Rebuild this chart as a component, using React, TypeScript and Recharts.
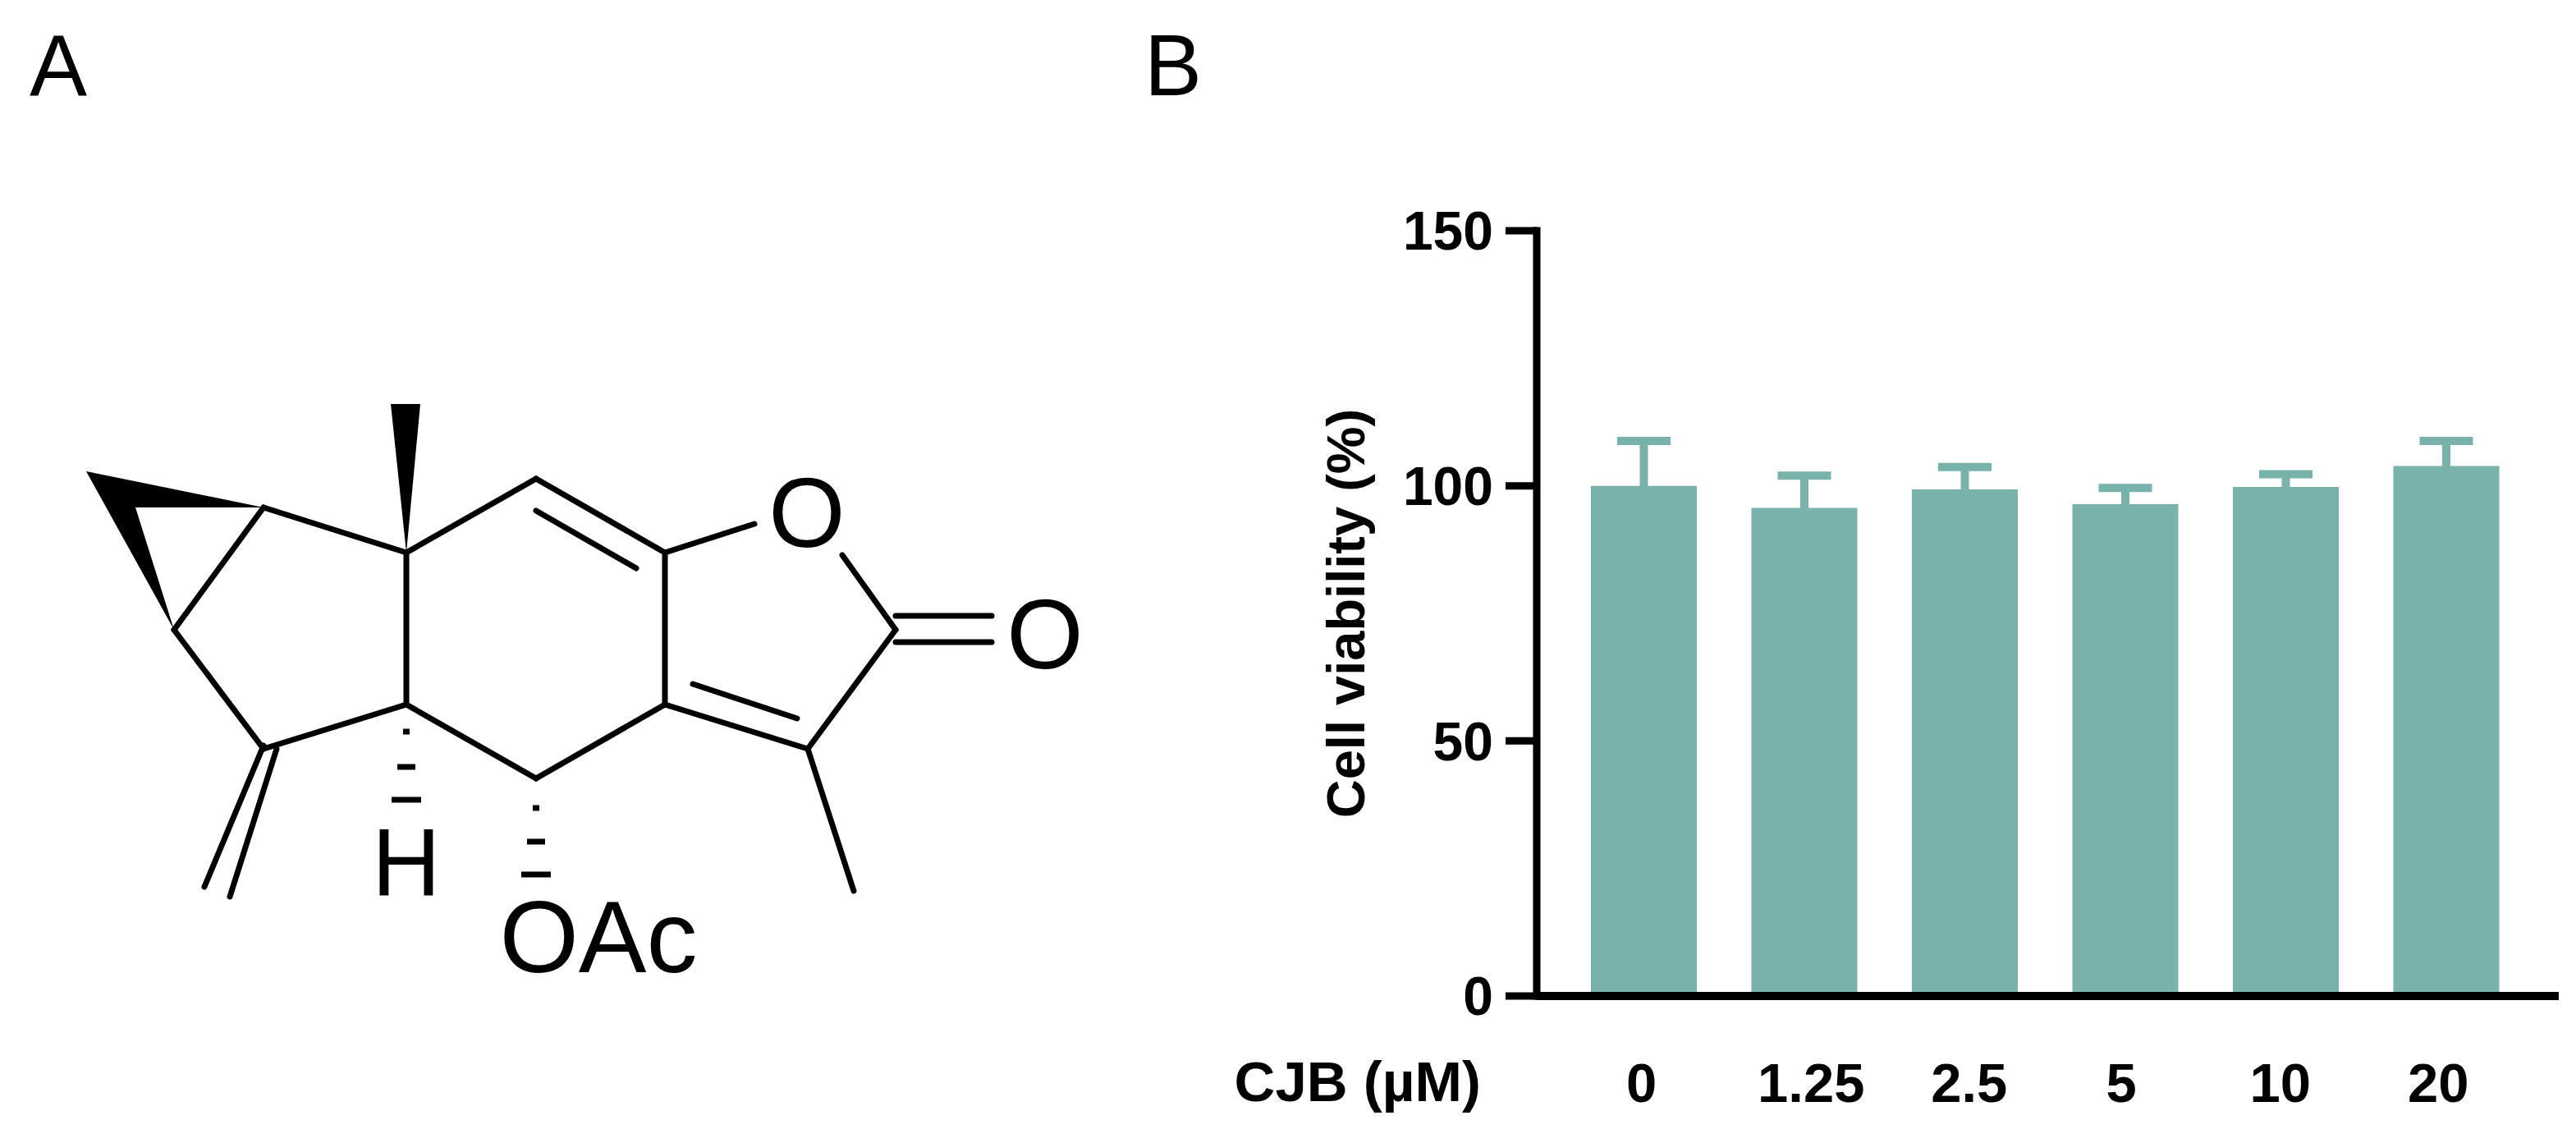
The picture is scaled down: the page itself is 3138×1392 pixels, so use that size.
import { BarChart, Bar, XAxis, YAxis, ErrorBar, ReferenceLine } from "recharts"

const FONT = "Liberation Sans"
const BAR_COLOR = "#79b1ab"

// panel B
const doses = ["0", "1.25", "2.5", "5", "10", "20"]
const viability = [100, 95.7, 99.3, 96.4, 99.8, 103.9]
const sd = [8.8, 6.3, 4.4, 3.2, 2.5, 4.9]
const yTicks = [0, 50, 100, 150]
// the dose labels in the figure don't sit exactly under their bars
const labelNudge = [-3, 8, 5, -5, -7, -10]

const chartData = doses.map((dose, i) => ({ dose, viability: viability[i], sd: sd[i] }))

// panel A, the structure drawing (page pixels)
const bonds = [
  [495, 673, 653, 583],
  [653, 583, 810, 673],
  [653, 622, 775, 692],
  [810, 673, 919, 638],
  [1026, 676, 1091, 767],
  [1091, 750, 1208, 750],
  [1091, 782, 1208, 782],
  [1091, 767, 984, 912],
  [984, 912, 810, 858],
  [971, 875, 844, 833],
  [984, 912, 1040, 1085],
  [810, 673, 810, 858],
  [810, 858, 653, 948],
  [653, 948, 495, 858],
  [495, 673, 495, 858],
  [495, 858, 321, 912],
  [321, 912, 212, 767],
  [212, 767, 321, 618],
  [321, 618, 495, 673],
  [321, 908, 249, 1080],
  [337, 912, 280, 1092],
]
const wedges = ["476,492 512,492 495,673", "105,574 321,618 165,618 212,767"]
const hashes = [
  [495, 891, 8],
  [495, 934, 22],
  [495, 974, 36],
  [653, 984, 8],
  [653, 1025, 22],
  [653, 1065, 36],
]
const atoms = [
  { label: "O", x: 983, y: 666, size: 120 },
  { label: "O", x: 1273, y: 814, size: 120 },
  { label: "H", x: 495, y: 1090, size: 116 },
  { label: "OAc", x: 729, y: 1184, size: 124 },
]

const DoseTick = ({ x, y, payload, index }: any) => (
  <text
    x={x + labelNudge[index]}
    y={y + 123}
    textAnchor="middle"
    fontFamily={FONT}
    fontSize={67}
    fontWeight="bold"
    fill="#000"
  >
    {payload.value}
  </text>
)

export default function App() {
  return (
    <div style={{ position: "absolute", left: 0, top: 0, width: 3138, height: 1392, background: "#fff" }}>
      <svg width={3138} height={1392} style={{ position: "absolute", left: 0, top: 0 }}>
        <text x={36} y={116} fontFamily={FONT} fontSize={105} fill="#000">A</text>
        <text x={1394} y={116} fontFamily={FONT} fontSize={105} fill="#000">B</text>
        {bonds.map((b, i) => (
          <line key={i} x1={b[0]} y1={b[1]} x2={b[2]} y2={b[3]} stroke="#000" strokeWidth={7} strokeLinecap="round" />
        ))}
        {wedges.map((p, i) => (
          <polygon key={i} points={p} fill="#000" />
        ))}
        {hashes.map((h, i) => (
          <line key={i} x1={h[0] - h[2] / 2} y1={h[1]} x2={h[0] + h[2] / 2} y2={h[1]} stroke="#000" strokeWidth={7} />
        ))}
        {atoms.map((a, i) => (
          <text key={i} x={a.x} y={a.y} textAnchor="middle" fontFamily={FONT} fontSize={a.size} fill="#000">
            {a.label}
          </text>
        ))}
      </svg>
      <div style={{ position: "absolute", left: 0, top: 0 }}>
        <BarChart
          width={3138}
          height={1392}
          data={chartData}
          margin={{ top: 281, right: 21, bottom: 0, left: 0 }}
          style={{ background: "transparent" }}
        >
          <XAxis
            dataKey="dose"
            height={179}
            padding={{ left: 33, right: 39 }}
            tick={<DoseTick />}
            tickLine={false}
            tickMargin={0}
            interval={0}
            axisLine={{ stroke: "#000", strokeWidth: 10 }}
            label={{
              value: "CJB (µM)",
              position: "left",
              offset: 68,
              dy: 14,
              fontFamily: FONT,
              fontSize: 69,
              fontWeight: "bold",
              fill: "#000",
            }}
          />
          <YAxis
            width={1872}
            domain={[0, 150]}
            ticks={yTicks}
            interval={0}
            tickSize={38}
            tickMargin={15}
            tick={{ fontFamily: FONT, fontSize: 66, fontWeight: "bold", fill: "#000" }}
            tickLine={{ stroke: "#000", strokeWidth: 9 }}
            axisLine={{ stroke: "#000", strokeWidth: 9, strokeLinecap: "square" }}
            label={{
              value: "Cell viability (%)",
              angle: -90,
              position: "center",
              dx: 703,
              fontFamily: FONT,
              fontSize: 65,
              fontWeight: "bold",
              fill: "#000",
            }}
          />
          <Bar dataKey="viability" fill={BAR_COLOR} barSize={129} isAnimationActive={false}>
            <ErrorBar dataKey="sd" direction="y" width={32.5} stroke={BAR_COLOR} strokeWidth={10} isAnimationActive={false} />
          </Bar>
          {/* baseline again, so the bars stop on top of it and not across it */}
          <ReferenceLine y={0} stroke="#000" strokeWidth={10} ifOverflow="visible" />
        </BarChart>
      </div>
    </div>
  )
}
